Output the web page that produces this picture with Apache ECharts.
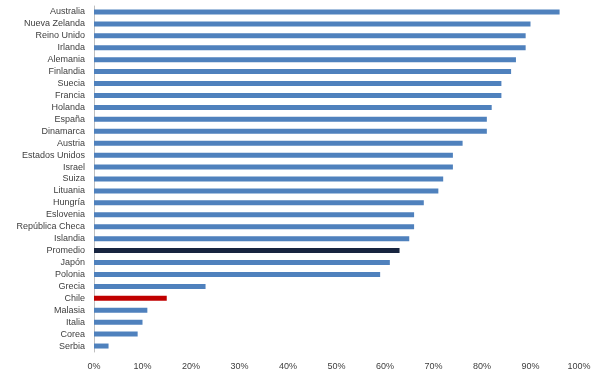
<!DOCTYPE html>
<html><head><meta charset="utf-8">
<script src="https://cdn.jsdelivr.net/npm/echarts@6/dist/echarts.min.js"></script>
<style>html,body{margin:0;padding:0;background:#fff}#c{width:600px;height:381px}</style>
</head><body><div id="c"></div>
<script>
const categories = ["Australia","Nueva Zelanda","Reino Unido","Irlanda","Alemania","Finlandia","Suecia","Francia","Holanda","España","Dinamarca","Austria","Estados Unidos","Israel","Suiza","Lituania","Hungría","Eslovenia","República Checa","Islandia","Promedio","Japón","Polonia","Grecia","Chile","Malasia","Italia","Corea","Serbia"];
const values = [96,90,89,89,87,86,84,84,82,81,81,76,74,74,72,71,68,66,66,65,63,61,59,23,15,11,10,9,3];
const xTicks = [0,10,20,30,40,50,60,70,80,90,100];
const highlight = {"Promedio":"#17243F","Chile":"#C00000"};
const baseColor = "#4F81BD";

const chart = echarts.init(document.getElementById('c'), null, {renderer:'canvas'});
chart.setOption({
  animation:false,
  grid:{left:94,right:21,top:6,bottom:29,containLabel:false},
  xAxis:{type:'value',min:0,max:100,interval:10,
    axisLine:{show:false},axisTick:{show:false},splitLine:{show:false},
    axisLabel:{formatter:v=>v+'%',color:'#404040',fontFamily:'Liberation Sans',fontSize:9,margin:10}},
  yAxis:{type:'category',data:categories,inverse:true,
    axisLine:{show:true,lineStyle:{color:'#BFBFBF',width:1}},axisTick:{show:false},
    axisLabel:{color:'#404040',fontFamily:'Liberation Sans',fontSize:9,margin:9}},
  series:[{type:'bar',barWidth:5,
    data:values.map((v,i)=>({value:v,itemStyle:{color:highlight[categories[i]]||baseColor}}))}]
});
</script></body></html>
